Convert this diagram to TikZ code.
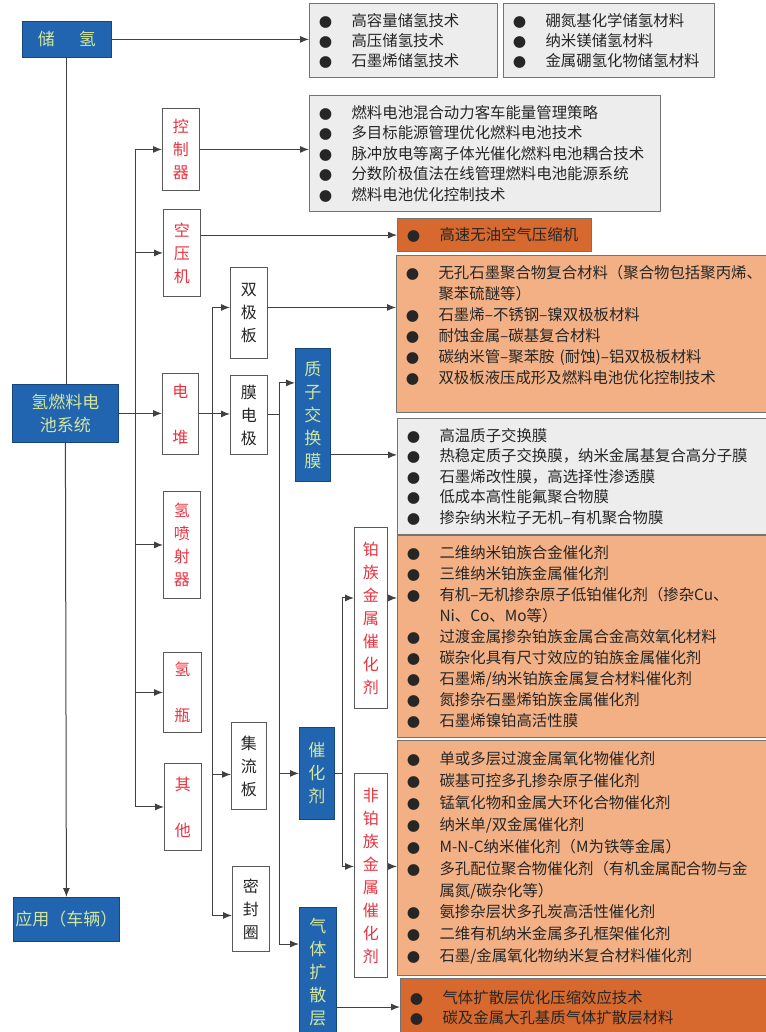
\documentclass[tikz,border=0pt]{standalone}
\usepackage{fontspec}
\setmainfont{Noto Sans CJK SC}
\newfontfamily\symfont{DejaVu Sans}
\usetikzlibrary{arrows.meta}
\definecolor{hblue}{HTML}{2164AF}
\definecolor{hgreen}{HTML}{D3E69C}
\definecolor{hred}{HTML}{E8333F}
\definecolor{dorange}{HTML}{D8692E}
\definecolor{lorange}{HTML}{F3B084}
\definecolor{lgray}{HTML}{EDEDED}
\newcommand\itm[1]{\hangindent=42pt\hangafter=1\makebox[32pt]{\symfont ●}\hspace*{10pt}#1\par}
\tikzset{
  line/.style={draw=black!75,line width=1pt},
  arr/.style={line,-{Latex[length=9pt,width=7pt]}},
  sz/.style 2 args={minimum width=#1,minimum height=#2},
  bluebox/.style={draw=hblue!70!black,fill=hblue,text=hgreen,line width=0.8pt,
    font=\fontsize{17}{23}\selectfont,align=center,inner sep=0,anchor=north west},
  redbox/.style={draw=black!65,fill=white,text=hred,line width=0.9pt,
    font=\fontsize{16}{23}\selectfont,align=center,inner sep=0,anchor=north west},
  blackbox/.style={redbox,text=black!85},
  lbox/.style 2 args={draw=black!55,line width=1.1pt,anchor=north west,inner sep=0,
    text width=#1,minimum height=#2,text=black!85,font=\fontsize{15.4}{21}\selectfont}
}
\begin{document}
\begin{tikzpicture}[x=1pt,y=-1pt]
\useasboundingbox (0,0) rectangle (765,1032);
\fill[white] (0,0) rectangle (765,1032);

\node[bluebox,sz={89}{36}] (cq) at (22,21) {储\hspace{24pt}氢};
\node[bluebox,sz={106}{58}] (sys) at (12,384) {氢燃料电\\池系统};
\node[bluebox,sz={106}{44}] (app) at (13,897) {应用（车辆）};
\node[bluebox,sz={35}{133}] (zz) at (295,348) {质\\子\\交\\换\\膜};
\node[bluebox,sz={35}{92}] (chj) at (299,727) {催\\化\\剂};
\node[bluebox,sz={37}{130}] (kz) at (299,907) {气\\体\\扩\\散\\层};

\node[redbox,sz={37}{82}] (kzq) at (162,108) {控\\制\\器};
\node[redbox,sz={37}{87}] (kyj) at (163,209) {空\\压\\机};
\node[redbox,sz={36}{81}] (dd) at (162,373) {电\\[23pt]堆};
\node[redbox,sz={37}{107}] (hpsq) at (163,491) {氢\\喷\\射\\器};
\node[redbox,sz={38}{80}] (hp) at (163,652) {氢\\[23pt]瓶};
\node[redbox,sz={37}{87}] (qt) at (164,763) {其\\[23pt]他};
\node[blackbox,sz={37}{91}] (sjb) at (230,267) {双\\极\\板};
\node[blackbox,sz={37}{79}] (mdj) at (230,375) {膜\\电\\极};
\node[blackbox,sz={35}{87}] (jlb) at (231,722) {集\\流\\板};
\node[blackbox,sz={37}{85}] (mfq) at (232,866) {密\\封\\圈};
\node[redbox,sz={33}{181}] (bz) at (354,527) {铂\\族\\金\\属\\催\\化\\剂};
\node[redbox,sz={33}{204}] (fbz) at (354,773) {非\\铂\\族\\金\\属\\催\\化\\剂};

\node[lbox={188}{74},fill=lgray,font=\fontsize{15.4}{20}\selectfont] (cqa) at (309,3)
  {\itm{高容量储氢技术}\itm{高压储氢技术}\itm{石墨烯储氢技术}};
\node[lbox={211}{74},fill=lgray,font=\fontsize{15.4}{20}\selectfont] (cqb) at (503,3)
  {\itm{硼氮基化学储氢材料}\itm{纳米镁储氢材料}\itm{金属硼氢化物储氢材料}};
\node[lbox={351}{116},fill=lgray,font=\fontsize{15.4}{20.5}\selectfont] (kzqT) at (309,95)
  {\itm{燃料电池混合动力客车能量管理策略}\itm{多目标能源管理优化燃料电池技术}
   \itm{脉冲放电等离子体光催化燃料电池耦合技术}\itm{分数阶极值法在线管理燃料电池能源系统}
   \itm{燃料电池优化控制技术}};
\node[lbox={194}{33},fill=dorange] (kyjT) at (397,218) {\itm{高速无油空气压缩机}};
\node[lbox={372}{157},fill=lorange] (sjbT) at (396,255)
  {\itm{无孔石墨聚合物复合材料（聚合物包括聚丙烯、\newline 聚苯硫醚等）}
   \itm{石墨烯–不锈钢–镍双极板材料}\itm{耐蚀金属–碳基复合材料}
   \itm{碳纳米管–聚苯胺 (耐蚀)–铝双极板材料}\itm{双极板液压成形及燃料电池优化控制技术}
   \vspace{17pt}\hrule height 0pt};
\node[lbox={371}{116},fill=lgray,font=\fontsize{15.4}{20.5}\selectfont] (zzT) at (397,418)
  {\itm{高温质子交换膜}\itm{热稳定质子交换膜，纳米金属基复合高分子膜}
   \itm{石墨烯改性膜，高选择性渗透膜}\itm{低成本高性能氟聚合物膜}
   \itm{掺杂纳米粒子无机–有机聚合物膜}};
\node[lbox={371}{202},fill=lorange] (bzT) at (397,535)
  {\itm{二维纳米铂族合金催化剂}\itm{三维纳米铂族金属催化剂}
   \itm{有机–无机掺杂原子低铂催化剂（掺杂Cu、\newline Ni、Co、Mo等）}
   \itm{过渡金属掺杂铂族金属合金高效氧化材料}\itm{碳杂化具有尺寸效应的铂族金属催化剂}
   \itm{石墨烯/纳米铂族金属复合材料催化剂}\itm{氮掺杂石墨烯铂族金属催化剂}
   \itm{石墨烯镍铂高活性膜}};
\node[lbox={371}{235},fill=lorange,font=\fontsize{15.4}{21.9}\selectfont] (fbzT) at (397,740)
  {\itm{单或多层过渡金属氧化物催化剂}\itm{碳基可控多孔掺杂原子催化剂}
   \itm{锰氧化物和金属大环化合物催化剂}\itm{纳米单/双金属催化剂}
   \itm{M-N-C纳米催化剂（M为铁等金属）}
   \itm{多孔配位聚合物催化剂（有机金属配合物与金\newline 属氮/碳杂化等）}
   \itm{氨掺杂层状多孔炭高活性催化剂}\itm{二维有机纳米金属多孔框架催化剂}
   \itm{石墨/金属氧化物纳米复合材料催化剂}};
\node[lbox={368}{58},fill=dorange,font=\fontsize{15.4}{20}\selectfont] (kzT) at (400,978)
  {\itm{气体扩散层优化压缩效应技术}\itm{碳及金属大孔基质气体扩散层材料}};

\draw[arr] (cq.east) -- (cq.east -| cqa.west);
\draw[line] (cq.south) -- (cq.south |- sys.north);
\draw[arr] (sys.south) -- (app.north);
\draw[arr] (sys.east) -- (sys.east -| dd.west);
\coordinate (t1) at ([xshift=-27]kzq.west);
\draw[arr] (t1) |- (qt.west);
\foreach \n in {kzq,kyj,hpsq,hp} \draw[arr] (t1 |- \n.west) -- (\n.west);
\draw[arr] (kzq.east) -- (kzq.east -| kzqT.west);
\draw[arr] (kyj.east |- kyjT.west) -- (kyjT.west);

\draw[arr] (dd.east) -- (dd.east -| mdj.west);
\coordinate (t2) at ([xshift=-18,yshift=5.5]sjb.west);
\draw[arr] (t2) -- ([yshift=5.5]sjb.west);
\draw[arr] (t2) |- ([yshift=-6.5]mfq.west);
\draw[arr] (t2 |- jlb.west) ++(0,8.5) -- ([yshift=-8.5]jlb.west);
\draw[arr] ([yshift=5.5]sjb.east) -- ([yshift=5.5]sjb.east -| sjbT.west);

\coordinate (t3) at ([xshift=-16,yshift=32]zz.west);
\draw[line] (mdj.east) -- (mdj.east -| t3);
\draw[arr] (t3) -- ([yshift=32]zz.west);
\draw[arr] (t3) |- ([yshift=-37]kz.north west);
\draw[arr] (t3 |- chj.west) -- (chj.west);
\draw[arr] ([yshift=-40]zz.east) -- ([yshift=-40]zz.east -| zzT.west);

\coordinate (t4) at ([xshift=-12,yshift=20]bz.west);
\draw[line] (chj.east) -- (chj.east -| t4);
\draw[arr] (t4) -- ([yshift=20]bz.west);
\draw[arr] (t4) |- ([yshift=9]fbz.west);
\draw[arr] ([yshift=20]bz.east) -- ([yshift=20]bz.east -| bzT.west);
\draw[arr] ([yshift=9]fbz.east) -- ([yshift=9]fbz.east -| fbzT.west);
\draw[arr] ([yshift=-100]kz.north east) -- ([yshift=-100]kz.north east -| kzT.west);
\end{tikzpicture}
\end{document}
